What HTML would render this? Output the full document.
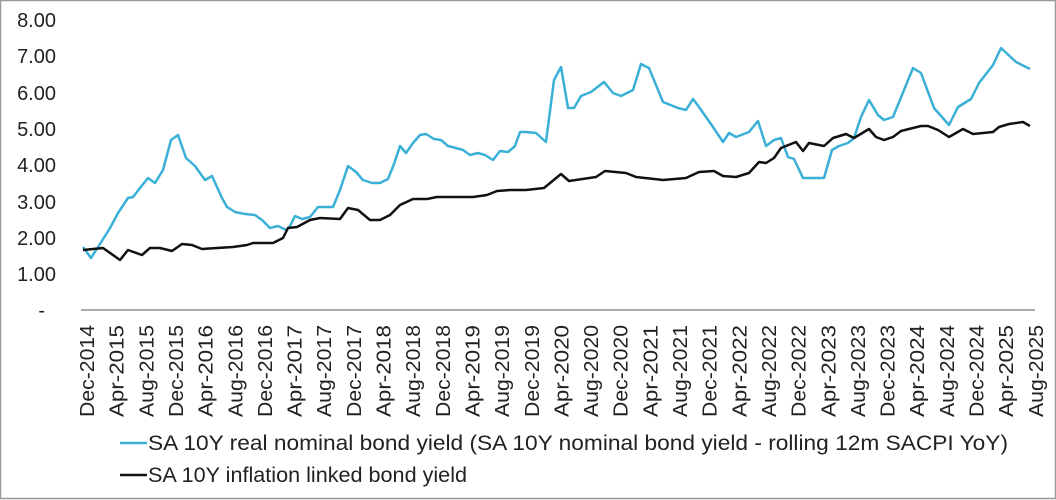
<!DOCTYPE html>
<html><head><style>
html,body{margin:0;padding:0;background:#fff}
svg{display:block}
text{font-family:"Liberation Sans",sans-serif;fill:#222}
</style></head><body>
<svg width="1056" height="500" viewBox="0 0 1056 500">
<rect x="0.5" y="0.5" width="1055" height="498" fill="#fff" stroke="#999" stroke-width="1.5"/>
<g font-size="20" text-anchor="end">
<text x="56" y="27">8.00</text>
<text x="56" y="63">7.00</text>
<text x="56" y="100">6.00</text>
<text x="56" y="136">5.00</text>
<text x="56" y="172">4.00</text>
<text x="56" y="209">3.00</text>
<text x="56" y="245">2.00</text>
<text x="56" y="281">1.00</text>
<text x="45" y="317">-</text>
</g>
<line x1="81" y1="310" x2="1035" y2="310" stroke="#aaa" stroke-width="2"/>
<g id="xl" font-size="20" text-anchor="end"></g>
<polyline fill="none" stroke="#3bb0d6" stroke-width="2.5" stroke-linejoin="round" points="83,247 91,258 100,244 105,236 110,228 118,213 128,198 133,197 140,188 148,178 155,183 163,170 171,140 178,135 186,158 195,166 205,180 212,176 222,198 227,207 235,212 245,214 255,215 262,220 270,228 278,226 286,230 290,226 295,216 302,219 310,217 318,207 326,207 333,207 340,190 348,166 356,172 363,180 372,183 380,183 388,179 394,164 400,146 406,153 413,143 420,135 426,134 434,139 441,140 448,146 456,148 463,150 470,155 478,153 485,155 493,160 500,151 508,152 515,146 520,132 526,132 536,133 546,142 554,80 561,67 568,108 574,108 581,96 591,92 604,82 613,93 621,96 633,90 641,64 649,68 663,102 678,108 686,110 693,99 699,107 713,127 723,142 729,133 736,137 749,132 758,121 766,146 774,140 781,138 788,157 794,159 803,178 824,178 832,150 839,146 848,143 854,138 861,117 869,100 878,115 884,120 893,117 913,68 921,73 934,108 949,125 958,107 971,99 979,83 993,65 1001,48 1016,62 1030,69"/>
<polyline fill="none" stroke="#111" stroke-width="2.5" stroke-linejoin="round" points="83,250 103,248 120,260 128,250 142,255 150,248 160,248 172,251 182,244 192,245 202,249 217,248 233,247 247,245 253,243 273,243 283,238 288,228 297,227 310,220 320,218 340,219 348,208 358,210 370,220 380,220 390,215 400,205 413,199 427,199 437,197 473,197 487,195 497,191 510,190 526,190 544,188 561,174 569,181 596,177 605,171 626,173 636,177 663,180 686,178 699,172 714,171 723,176 736,177 749,173 759,162 766,163 774,158 781,148 796,142 803,151 809,143 824,146 833,138 846,134 854,138 869,129 876,137 884,140 893,137 901,131 909,129 921,126 928,126 938,130 949,137 963,129 973,134 993,132 999,127 1009,124 1023,122 1030,126"/>
<line x1="120" y1="443" x2="147" y2="443" stroke="#3bb0d6" stroke-width="2.5"/>
<line x1="120" y1="475" x2="147" y2="475" stroke="#111" stroke-width="2.5"/>
<text x="148" y="450" font-size="21" textLength="860" lengthAdjust="spacingAndGlyphs">SA 10Y real nominal bond yield (SA 10Y nominal bond yield - rolling 12m SACPI YoY)</text>
<text x="148" y="482" font-size="21" textLength="319" lengthAdjust="spacingAndGlyphs">SA 10Y inflation linked bond yield</text>
</svg>
<script>
var m=["Dec","Apr","Aug"],g=document.getElementById("xl"),s="";
for(var i=0;i<33;i++){var mo=m[i%3],yr=2014+Math.ceil(i/3);var x=83+i*29.65+11;
s+='<text transform="translate('+x.toFixed(1)+',325) rotate(-90)" textLength="92" lengthAdjust="spacingAndGlyphs">'+mo+'-'+yr+'</text>';}
g.innerHTML=s;
</script>
</body></html>
